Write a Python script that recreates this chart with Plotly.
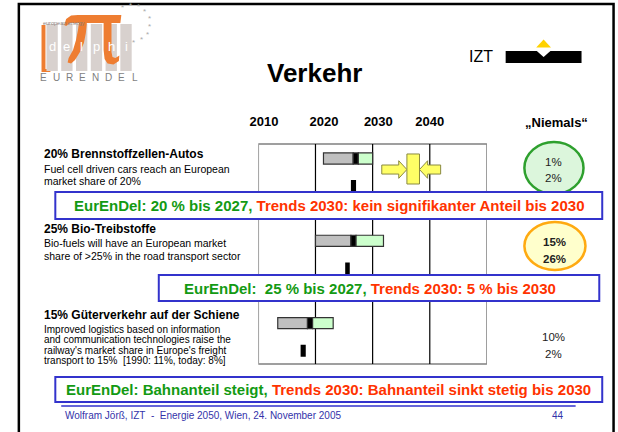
import math
import plotly.graph_objects as go

W, H = 618, 432

# ---------------- data ----------------
row_titles = ["20% Brennstoffzellen-Autos", "25% Bio-Treibstoffe", "15% Güterverkehr auf der Schiene"]
row_desc = [
    ["Fuel cell driven cars reach an European", "market share of 20%"],
    ["Bio-fuels will have an European market", "share of >25% in the road transport sector"],
    ["Improved logistics based on information", "and communication technologies raise the",
     "railway's market share in Europe's freight", "transport to 15%  [1990: 11%, today: 8%]"],
]
range_lo = [2021.4, 2020.0, 2013.4]      # start of expert range (grey)
median_lo = [2026.6, 2026.2, 2018.6]     # median (black)
median_hi = [2027.5, 2027.1, 2019.5]
range_hi = [2030.0, 2031.9, 2023.1]      # end of expert range (green)
trend_lo = [2026.2, 2025.2, 2017.4]      # small black marker
trend_hi = [2027.1, 2026.0, 2018.3]
year_labels = ["2010", "2020", "2030", "2040"]
decades = [2010, 2020, 2030, 2040, 2050]
never_a = ["1%", "15%", "10%"]
never_b = ["2%", "26%", "2%"]
conv_lo, conv_hi = 2036.0, 2038.2        # converging arrows target (row 1)
conv_tail_lo, conv_tail_hi = 2031.6, 2041.9
eurendel_txt = ["EurEnDel: 20 % bis 2027, ", "EurEnDel:&nbsp; 25 % bis 2027, ", "EurEnDel: Bahnanteil steigt, "]
trends_txt = ["Trends 2030: kein signifikanter Anteil bis 2030", "Trends 2030: 5 % bis 2030",
              "Trends 2030: Bahnanteil sinkt stetig bis 2030"]

# ---------------- helpers ----------------
FONT = "Liberation Sans, Arial, sans-serif"


def px(x):
    return x / W


def py(y):
    return 1 - y / H


def poly(points):
    return "M " + " L ".join(f"{px(x):.5f},{py(y):.5f}" for x, y in points) + " Z"


rows = [0, 1, 2]
ROW_PX = 82.3
Y_TOP = (144 - 158.5) / ROW_PX
Y_BOT = (364 - 158.5) / ROW_PX

fig = go.Figure()

seg_line = dict(color="#333333", width=1.2)
fig.add_trace(go.Bar(orientation="h", y=rows, base=range_lo,
                     x=[m - r for m, r in zip(median_lo, range_lo)], width=0.135,
                     marker=dict(color="#c0c0c0", line=seg_line), hoverinfo="skip"))
fig.add_trace(go.Bar(orientation="h", y=rows, base=median_lo,
                     x=[b - a for a, b in zip(median_lo, median_hi)], width=0.135,
                     marker=dict(color="#000000", line=seg_line), hoverinfo="skip"))
fig.add_trace(go.Bar(orientation="h", y=rows, base=median_hi,
                     x=[b - a for a, b in zip(median_hi, range_hi)], width=0.135,
                     marker=dict(color="#ccffcc", line=seg_line), hoverinfo="skip"))
fig.add_trace(go.Bar(orientation="h", y=[r + 0.335 for r in rows], base=trend_lo,
                     x=[b - a for a, b in zip(trend_lo, trend_hi)], width=0.145,
                     marker=dict(color="#000000", line=dict(width=0)), hoverinfo="skip"))

# converging arrows (row 1)
c = 0.134
sh, hh, hl = 0.055, 0.107, 1.43
left_arrow_x = [conv_tail_lo, conv_lo - hl, conv_lo - hl, conv_lo, conv_lo - hl, conv_lo - hl, conv_tail_lo, conv_tail_lo]
left_arrow_y = [c - sh, c - sh, c - hh, c, c + hh, c + sh, c + sh, c - sh]
right_arrow_x = [conv_tail_hi, conv_hi + hl, conv_hi + hl, conv_hi, conv_hi + hl, conv_hi + hl, conv_tail_hi, conv_tail_hi]
arrow_style = dict(mode="lines", fill="toself", fillcolor="#ffff66",
                   line=dict(color="#8a8a40", width=1), hoverinfo="skip")
fig.add_trace(go.Scatter(x=left_arrow_x, y=left_arrow_y, **arrow_style))
fig.add_trace(go.Scatter(x=right_arrow_x, y=left_arrow_y, **arrow_style))
fig.add_trace(go.Scatter(x=[conv_lo, conv_hi, conv_hi, conv_lo, conv_lo],
                         y=[-0.055, -0.055, 0.31, 0.31, -0.055], **arrow_style))

shapes = []
# grid
shapes.append(dict(type="rect", xref="x", yref="y domain", x0=decades[0], x1=decades[-1], y0=0, y1=1,
                   line=dict(color="#808080", width=1.5), layer="below"))
for d in decades[1:-1]:
    shapes.append(dict(type="line", xref="x", yref="y domain", x0=d, x1=d, y0=0, y1=1,
                       line=dict(color="#000000", width=1.2), layer="below"))

# slide frame
shapes.append(dict(type="path", xref="paper", yref="paper",
                   path=f"M {px(10)},{py(440)} L {px(10)},{py(4)} L {px(613.5)},{py(4)} L {px(613.5)},{py(440)}",
                   line=dict(color="#000000", width=2.5)))

# "Niemals" circles
shapes.append(dict(type="circle", xref="paper", yref="paper", x0=px(523), x1=px(583), y0=py(194), y1=py(142),
                   fillcolor="#dcf6dc", line=dict(color="#2ea02e", width=2.5)))
shapes.append(dict(type="circle", xref="paper", yref="paper", x0=px(523), x1=px(585), y0=py(270), y1=py(222),
                   fillcolor="#ffffcc", line=dict(color="#ffaa11", width=2.5)))

# comment boxes
boxes = [(47, 192, 602, 219), (152, 275, 599, 301), (47, 377, 602, 402)]
for x0, y0, x1, y1 in boxes:
    shapes.append(dict(type="rect", xref="paper", yref="paper", x0=px(x0), x1=px(x1), y0=py(y1), y1=py(y0),
                       fillcolor="white", line=dict(color="#3333cc", width=2)))

# footer line
shapes.append(dict(type="line", xref="paper", yref="paper", x0=px(53), x1=px(575), y0=py(406), y1=py(406),
                   line=dict(color="#3333cc", width=1.5)))

# ---- logo (eurendel delphi) ----
ORANGE = "#ee7d31"
shapes.append(dict(type="path", xref="paper", yref="paper",
                   path=poly([(33, 25), (37, 25), (37, 69), (42, 69), (42, 72), (33, 72)]),
                   fillcolor=ORANGE, line=dict(width=0)))
for i in range(6):
    shapes.append(dict(type="rect", xref="paper", yref="paper", x0=px(38 + 15 * i), x1=px(38 + 15 * i + 11.5),
                       y0=py(71), y1=py(24), fillcolor="#d8d1ce", line=dict(width=0)))
shapes.append(dict(type="path", xref="paper", yref="paper",
                   path=poly([(56, 25), (58, 19), (63, 15.5), (70, 15), (114, 15), (113, 23), (62, 23), (58, 26)]),
                   fillcolor=ORANGE, line=dict(width=0)))
shapes.append(dict(type="path", xref="paper", yref="paper",
                   path=poly([(71, 23), (79, 23), (78, 33), (76, 43), (72, 52), (67, 60), (63, 63.5), (59.5, 62.5),
                              (60.5, 58), (65, 50), (68, 40), (70, 30)]),
                   fillcolor=ORANGE, line=dict(width=0)))
shapes.append(dict(type="path", xref="paper", yref="paper",
                   path=poly([(96, 23), (104, 23), (104, 52), (105, 57), (108, 58), (112, 55.5), (111.5, 61),
                              (106, 64.5), (100, 63.5), (97, 59), (96, 50)]),
                   fillcolor=ORANGE, line=dict(width=0)))

# ---- IZT logo ----
shapes.append(dict(type="rect", xref="paper", yref="paper", x0=px(504), x1=px(581), y0=py(63), y1=py(51),
                   fillcolor="#000000", line=dict(width=0)))
shapes.append(dict(type="path", xref="paper", yref="paper", path=poly([(535, 50.5), (550, 50.5), (542.5, 57)]),
                   fillcolor="white", line=dict(width=0)))
shapes.append(dict(type="path", xref="paper", yref="paper", path=poly([(535, 47.5), (550, 47.5), (542.5, 39.5)]),
                   fillcolor="#ffd200", line=dict(width=0)))

ann = []


def text(x, y, s, size, color="#000000", anchor="left", bold=False, family=FONT):
    ann.append(dict(x=px(x), y=py(y), xref="paper", yref="paper", text=s, showarrow=False,
                    xanchor=anchor, yanchor="middle",
                    font=dict(family=family, size=size, color=color, weight="bold" if bold else "normal")))


# title
text(310, 73, "Verkehr", 26, anchor="center", bold=True)
text(479, 57, "IZT", 16, anchor="center")
text(555.5, 122.5, "„Niemals“", 13, anchor="center", bold=True)

# row labels
title_y = [154.5, 229, 315]
desc_y = [[169, 181], [243, 256], [329.5, 339.8, 350.1, 360.4]]
desc_size = [10.5, 10.5, 10]
for i in rows:
    text(33, title_y[i], row_titles[i], 12, bold=True)
    for j, line in enumerate(row_desc[i]):
        text(33, desc_y[i][j], line, desc_size[i])

# never values
never_pos = [(553, 162, 178), (554, 242, 259), (553, 337, 354)]
for i in rows:
    x, ya, yb = never_pos[i]
    b = (i == 1)
    text(x, ya, never_a[i], 11.5, color="#222222", anchor="center", bold=b)
    text(x, yb, never_b[i], 11.5, color="#222222", anchor="center", bold=b)

# comment box texts
GREEN, RED = "#139a13", "#ff3300"
box_text_pos = [(324.5, 205.5), (366, 288), (324.5, 389.5)]
for i in rows:
    x, y = box_text_pos[i]
    s = f"<span style='color:{GREEN}'>{eurendel_txt[i]}</span><span style='color:{RED}'>{trends_txt[i]}</span>"
    text(x, y, s, 15, anchor="center", bold=True)

# footer
text(55, 415.5, "Wolfram Jörß, IZT&nbsp; -&nbsp; Energie 2050, Wien, 24. November 2005", 10, color="#3333aa")
text(557, 415.5, "44", 10, color="#3333aa", anchor="center")

# logo texts
text(32, 22.5, "european energy", 5.5, color="#8a7f7a")
for i, ch in enumerate("delphi"):
    text(43.75 + 15 * i, 47, ch, 13, color="white", anchor="center")
for i, ch in enumerate("EURENDEL"):
    text(35 + 13.2 * i, 77.5, ch, 10, color="#7f7f7f", anchor="center")
for k in range(9):
    a = math.radians(-118 + 25 * k)
    text(124 + 19 * math.cos(a), 24 + 19 * math.sin(a), "*", 8, color="#aaaaaa", anchor="center")

fig.update_layout(
    width=W, height=H, margin=dict(l=0, r=0, t=0, b=0),
    paper_bgcolor="white", plot_bgcolor="rgba(0,0,0,0)",
    showlegend=False, barmode="overlay",
    shapes=shapes, annotations=ann,
    xaxis=dict(domain=[253 / W, 485 / W], range=[decades[0], decades[-1]], side="top",
               tickmode="array", tickvals=[2011, 2021.5, 2031, 2040], ticktext=year_labels,
               ticks="outside", ticklen=12, tickcolor="rgba(0,0,0,0)",
               tickfont=dict(family=FONT, size=13, color="#000000", weight="bold"),
               showgrid=False, zeroline=False, showline=False, fixedrange=True),
    yaxis=dict(domain=[1 - 364 / H, 1 - 144 / H], range=[Y_BOT, Y_TOP], visible=False, fixedrange=True),
)

fig.write_html("out.html", config={"displayModeBar": False},
               post_script="document.body.style.margin='0px';document.body.style.overflow='hidden';")
